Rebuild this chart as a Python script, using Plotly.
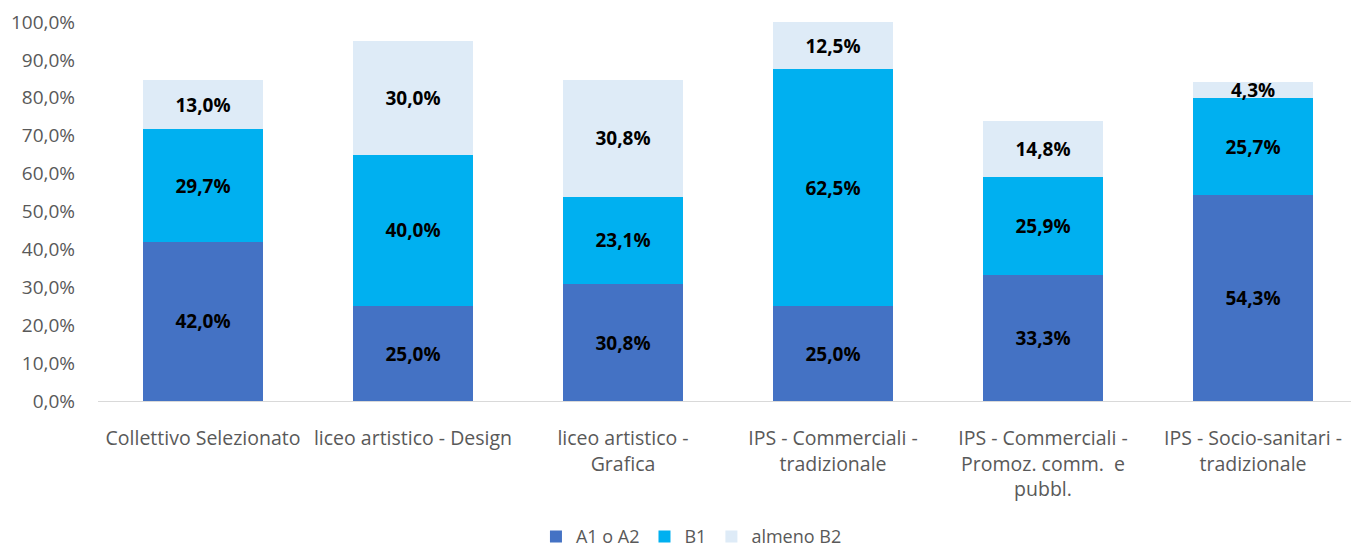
import plotly.graph_objects as go

categories = [
    "Collettivo Selezionato",
    "liceo artistico - Design",
    "liceo artistico -<br>Grafica",
    "IPS - Commerciali -<br>tradizionale",
    "IPS - Commerciali -<br>Promoz. comm.  e<br>pubbl.",
    "IPS - Socio-sanitari -<br>tradizionale",
]
a1_a2 = [42.0, 25.0, 30.8, 25.0, 33.3, 54.3]
b1 = [29.7, 40.0, 23.1, 62.5, 25.9, 25.7]
almeno_b2 = [13.0, 30.0, 30.8, 12.5, 14.8, 4.3]
y_ticks = [0, 10, 20, 30, 40, 50, 60, 70, 80, 90, 100]
y_tick_text = [f"{v:.1f}%".replace(".", ",") for v in y_ticks]

series = [
    ("A1 o A2", a1_a2, "#4472C4"),
    ("B1", b1, "#00B0F0"),
    ("almeno B2", almeno_b2, "#DEEBF7"),
]

FONT = "Open Sans, Calibri, sans-serif"

fig = go.Figure()
for name, vals, color in series:
    fig.add_trace(go.Bar(
        x=categories, y=vals, name=name,
        marker=dict(color=color, line=dict(width=0)),
        texttemplate="<b>%{y:.1f}%</b>",
        textposition="inside",
        insidetextanchor="middle",
        constraintext="none",
        textfont=dict(family=FONT, size=19, color="#000000"),
        hoverinfo="skip",
    ))

fig.update_layout(
    barmode="stack",
    bargap=0.43,
    separators=",.",
    width=1359, height=547,
    paper_bgcolor="white", plot_bgcolor="white",
    margin=dict(l=90, r=9, t=14, b=154, autoexpand=False),
    font=dict(family=FONT, size=18, color="#595959"),
    showlegend=True,
    legend=dict(orientation="h", x=0.471, xanchor="center", y=-0.358, yanchor="middle",
                font=dict(size=18, color="#595959"), traceorder="normal",
                itemwidth=30),
    xaxis=dict(tickangle=0, showline=True, linecolor="#D9D9D9", linewidth=1,
               ticks="", automargin=False, ticklabelstandoff=20,
               tickfont=dict(family=FONT, size=19.5, color="#595959")),
    yaxis=dict(range=[0, 100], tickvals=y_ticks, ticktext=y_tick_text,
               showgrid=False, zeroline=False, showline=False, ticks="",
               automargin=False, ticklabelstandoff=22,
               tickfont=dict(family=FONT, size=19, color="#595959")),
)

fig.write_html("out.html")
